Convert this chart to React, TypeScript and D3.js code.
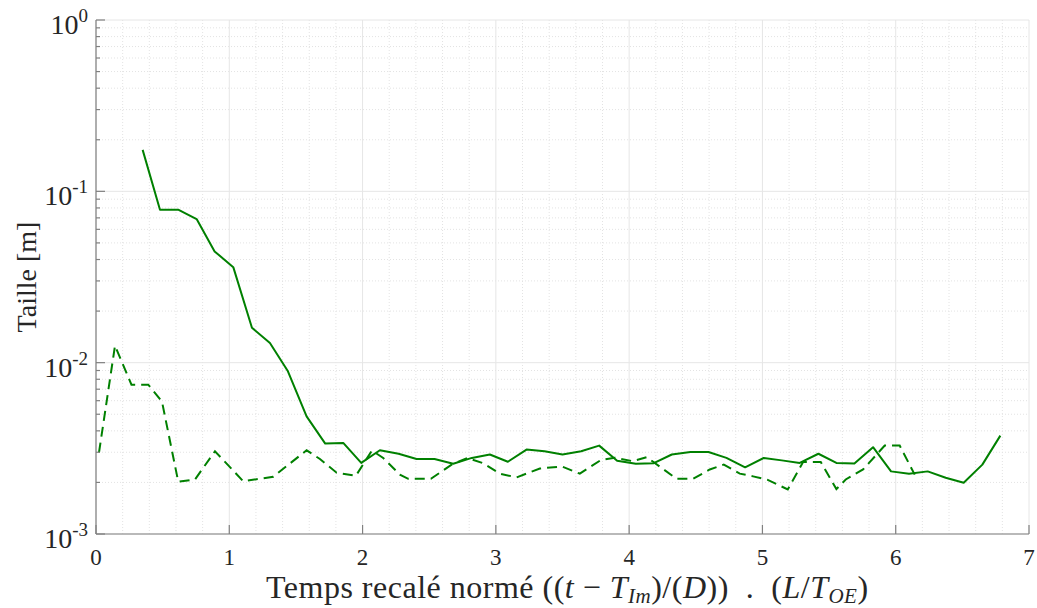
import React from "react";
import * as d3 from "d3";

const solidX = [0.35,0.48,0.62,0.755,0.89,1.03,1.17,1.305,1.44,1.58,1.72,1.855,1.99,2.13,2.27,2.405,2.54,2.68,2.82,2.955,3.09,3.23,3.365,3.50,3.64,3.775,3.91,4.05,4.185,4.32,4.46,4.595,4.73,4.87,5.01,5.145,5.28,5.42,5.555,5.69,5.83,5.965,6.10,6.24,6.375,6.51,6.65,6.785];
const solidY = [0.1746,0.078,0.078,0.0689,0.0446,0.0361,0.016,0.01303,0.0089,0.00486,0.00337,0.0034,0.0026,0.00308,0.00294,0.00274,0.00274,0.00257,0.00278,0.00291,0.00264,0.00311,0.00304,0.00291,0.00304,0.00328,0.00268,0.00257,0.00259,0.00291,0.00301,0.00301,0.00278,0.00245,0.00278,0.00269,0.0026,0.00294,0.0026,0.00258,0.00321,0.00232,0.00225,0.00232,0.00213,0.00199,0.00254,0.00375];

const dashX = [0.0225,0.1425,0.266,0.392,0.495,0.617,0.7425,0.8925,1.105,1.33,1.58,1.68,1.805,1.95,2.07,2.155,2.28,2.3425,2.5125,2.668,2.786,2.905,3.03,3.155,3.33,3.495,3.63,3.7875,3.8925,4.0275,4.1325,4.355,4.48,4.605,4.71,4.83,4.93,5.04,5.19,5.305,5.4375,5.555,5.625,5.755,5.9175,6.03,6.1425];
const dashY = [0.00299,0.01256,0.00744,0.00744,0.00593,0.00202,0.00208,0.00304,0.00203,0.00216,0.00308,0.00274,0.00228,0.00219,0.00307,0.00278,0.00222,0.0021,0.0021,0.00254,0.00278,0.00259,0.00225,0.00214,0.00241,0.00248,0.00225,0.0027,0.00279,0.00266,0.00281,0.0021,0.0021,0.00238,0.00254,0.00225,0.00217,0.00207,0.00182,0.00263,0.00263,0.00183,0.00208,0.00238,0.00328,0.00328,0.00222];

const xTicks = [0, 1, 2, 3, 4, 5, 6, 7];
const yExps = [0, -1, -2, -3];

const W = 1037, H = 608;
const serif = "'Liberation Serif', 'Times New Roman', serif";

export default function App() {
  const x = d3.scaleLinear().domain([0, 7]).range([96, 1029]);
  const y = d3.scaleLog().domain([1e-3, 1]).range([534, 20]);

  const minorX: number[] = [];
  for (let i = 1; i < 35; i++) if (i % 5 !== 0) minorX.push(i * 0.2);
  const minorY: number[] = [];
  for (let k = -3; k < 0; k++) for (let m = 2; m <= 9; m++) minorY.push(m * Math.pow(10, k));

  const line = d3.line<[number, number]>().x(d => x(d[0])).y(d => y(d[1]));
  const solidPts: [number, number][] = solidX.map((v, i) => [v, solidY[i]]);
  const dashPts: [number, number][] = dashX.map((v, i) => [v, dashY[i]]);

  const x0 = x(0), x1 = x(7), y0 = y(1e-3), y1 = y(1);

  return (
    <svg width={W} height={H} style={{ position: "absolute", left: 0, top: 0, background: "#fff" }}>
      {/* minor grid */}
      <g stroke="#e3e3e3" strokeWidth={1} strokeDasharray="1,2">
        {minorX.map((v, i) => (
          <line key={"mx" + i} x1={x(v)} x2={x(v)} y1={y0} y2={y1} />
        ))}
        {minorY.map((v, i) => (
          <line key={"my" + i} x1={x0} x2={x1} y1={y(v)} y2={y(v)} />
        ))}
      </g>
      {/* major grid */}
      <g stroke="#e6e6e6" strokeWidth={1}>
        {xTicks.map(v => (
          <line key={"gx" + v} x1={x(v)} x2={x(v)} y1={y0} y2={y1} />
        ))}
        {yExps.map(e => (
          <line key={"gy" + e} x1={x0} x2={x1} y1={y(Math.pow(10, e))} y2={y(Math.pow(10, e))} />
        ))}
      </g>
      {/* data */}
      <path d={line(dashPts) || ""} fill="none" stroke="#008000" strokeWidth={2} strokeDasharray="10,6" />
      <path d={line(solidPts) || ""} fill="none" stroke="#008000" strokeWidth={2} strokeLinejoin="round" />
      {/* axes */}
      <g stroke="#808080" strokeWidth={1.2}>
        <line x1={x0} x2={x0} y1={y0} y2={y1} />
        <line x1={x0} x2={x1} y1={y0} y2={y0} />
        {xTicks.map(v => (
          <line key={"tx" + v} x1={x(v)} x2={x(v)} y1={y0} y2={y0 - 9} />
        ))}
        {yExps.map(e => (
          <line key={"ty" + e} x1={x0} x2={x0 + 9} y1={y(Math.pow(10, e))} y2={y(Math.pow(10, e))} />
        ))}
        {minorY.map((v, i) => (
          <line key={"tmy" + i} x1={x0} x2={x0 + 4} y1={y(v)} y2={y(v)} />
        ))}
      </g>
      {/* tick labels */}
      <g fontFamily={serif} fill="#262626">
        {xTicks.map(v => (
          <text key={"lx" + v} x={x(v)} y={y0 + 31} fontSize={23} textAnchor="middle">{v}</text>
        ))}
        {yExps.map(e => (
          <text key={"ly" + e} x={88} y={y(Math.pow(10, e)) + 14} fontSize={28} textAnchor="end">
            10<tspan fontSize={19} dy={-12}>{e}</tspan>
          </text>
        ))}
      </g>
      {/* axis labels */}
      <text transform={`translate(36,${277}) rotate(-90)`} fontFamily={serif} fontSize={28} fill="#262626" textAnchor="middle">Taille [m]</text>
      <text x={266} y={598} fontFamily={serif} fontSize={32} fill="#262626" letterSpacing={0.5} style={{ whiteSpace: "pre" }}>
        {"Temps recalé normé (("}<tspan fontStyle="italic">t</tspan>{" \u2212 "}<tspan fontStyle="italic">T</tspan><tspan fontStyle="italic" fontSize={21} dy={5}>Im</tspan><tspan dy={-5}>)/(</tspan><tspan fontStyle="italic">D</tspan>{"))  .  ("}<tspan fontStyle="italic">L</tspan>/<tspan fontStyle="italic">T</tspan><tspan fontStyle="italic" fontSize={21} dy={5}>OE</tspan><tspan dy={-5}>)</tspan>
      </text>
    </svg>
  );
}
